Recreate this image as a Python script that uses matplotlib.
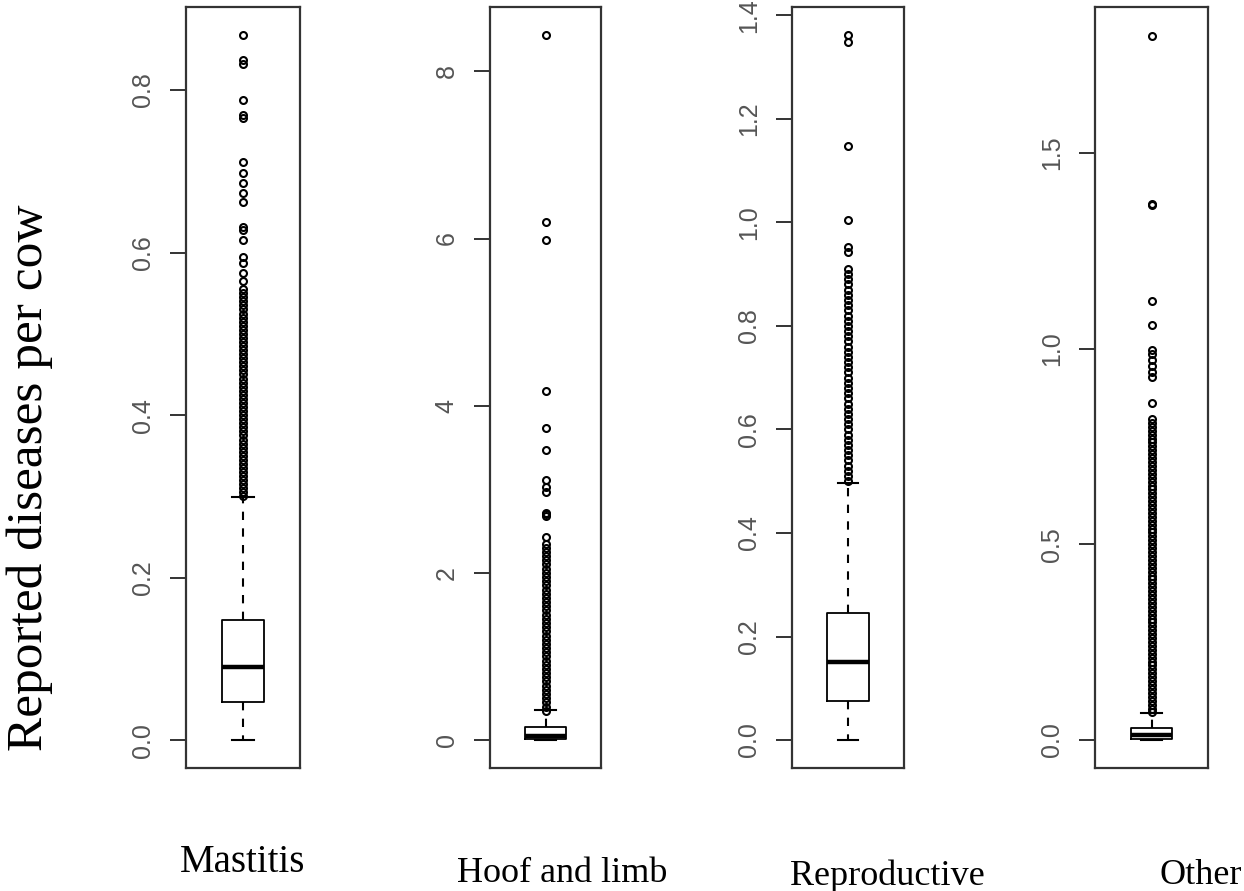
"""
Boxplots of reported diseases per cow, four disease groups side by side
"""
import matplotlib
matplotlib.use('Agg')
import matplotlib.pyplot as plt

# -----------------------------------------------------------------------------------
# DATA
# -----------------------------------------------------------------------------------
CATEGORIES = ['Mastitis', 'Hoof and limb', 'Reproductive', 'Other']

# box statistics: lower whisker, Q1, median, Q3, upper whisker
WHISLO = [0.0, 0.0, 0.0, 0.0]
Q1     = [0.047, 0.015, 0.075, 0.003]
MEDIAN = [0.090, 0.050, 0.150, 0.012]
Q3     = [0.148, 0.160, 0.245, 0.031]
WHISHI = [0.299, 0.360, 0.497, 0.069]

# outliers per panel
FLIERS_MASTITIS = [
    0.300, 0.305, 0.310, 0.315, 0.320, 0.325, 0.330, 0.335, 0.340, 0.345,
    0.350, 0.355, 0.360, 0.365, 0.370, 0.375, 0.380, 0.385, 0.390, 0.395,
    0.400, 0.405, 0.410, 0.415, 0.420, 0.425, 0.430, 0.435, 0.440, 0.445,
    0.450, 0.455, 0.460, 0.465, 0.470, 0.475, 0.480, 0.485, 0.490, 0.495,
    0.500, 0.505, 0.510, 0.515, 0.520, 0.525, 0.530, 0.535, 0.540, 0.545,
    0.550, 0.555, 0.565, 0.575, 0.587, 0.594, 0.615, 0.628, 0.631, 0.662,
    0.673, 0.686, 0.698, 0.711, 0.766, 0.769, 0.788, 0.832, 0.837, 0.868]
FLIERS_HOOF = [
    0.35, 0.40, 0.45, 0.50, 0.55, 0.60, 0.65, 0.70, 0.75, 0.80,
    0.85, 0.90, 0.95, 1.00, 1.05, 1.10, 1.15, 1.20, 1.25, 1.30,
    1.35, 1.40, 1.45, 1.50, 1.55, 1.60, 1.65, 1.70, 1.75, 1.80,
    1.85, 1.90, 1.95, 2.00, 2.05, 2.10, 2.15, 2.20, 2.25, 2.30,
    2.35, 2.43, 2.68, 2.70, 2.72, 2.97, 3.03, 3.11, 3.47, 3.73,
    4.17, 5.98, 6.20, 8.43]
FLIERS_REPRO = [
    0.50, 0.51, 0.52, 0.53, 0.54, 0.55, 0.56, 0.57, 0.58, 0.59,
    0.60, 0.61, 0.62, 0.63, 0.64, 0.65, 0.66, 0.67, 0.68, 0.69,
    0.70, 0.71, 0.72, 0.73, 0.74, 0.75, 0.76, 0.77, 0.78, 0.79,
    0.80, 0.81, 0.82, 0.83, 0.84, 0.85, 0.86, 0.87, 0.88, 0.89,
    0.90, 0.91, 0.943, 0.953, 1.005, 1.148, 1.349, 1.362]
FLIERS_OTHER = [
    0.07, 0.08, 0.09, 0.10, 0.11, 0.12, 0.13, 0.14, 0.15, 0.16,
    0.17, 0.18, 0.19, 0.20, 0.21, 0.22, 0.23, 0.24, 0.25, 0.26,
    0.27, 0.28, 0.29, 0.30, 0.31, 0.32, 0.33, 0.34, 0.35, 0.36,
    0.37, 0.38, 0.39, 0.40, 0.41, 0.42, 0.43, 0.44, 0.45, 0.46,
    0.47, 0.48, 0.49, 0.50, 0.51, 0.52, 0.53, 0.54, 0.55, 0.56,
    0.57, 0.58, 0.59, 0.60, 0.61, 0.62, 0.63, 0.64, 0.65, 0.66,
    0.67, 0.68, 0.69, 0.70, 0.71, 0.72, 0.73, 0.74, 0.75, 0.76,
    0.77, 0.78, 0.79, 0.80, 0.81, 0.82, 0.861, 0.928, 0.940, 0.955,
    0.970, 0.985, 0.997, 1.061, 1.122, 1.367, 1.370, 1.800]
FLIERS = [FLIERS_MASTITIS, FLIERS_HOOF, FLIERS_REPRO, FLIERS_OTHER]

# y ticks and labels per panel
YTICKS = [[0.0, 0.2, 0.4, 0.6, 0.8],
          [0, 2, 4, 6, 8],
          [0.0, 0.2, 0.4, 0.6, 0.8, 1.0, 1.2, 1.4],
          [0.0, 0.5, 1.0, 1.5]]
YTICKLABELS = [['0.0', '0.2', '0.4', '0.6', '0.8'],
               ['0', '2', '4', '6', '8'],
               ['0.0', '0.2', '0.4', '0.6', '0.8', '1.0', '1.2', '1.4'],
               ['0.0', '0.5', '1.0', '1.5']]
YLIMS = [(-0.034, 0.902), (-0.335, 8.77), (-0.054, 1.416), (-0.072, 1.873)]

# -----------------------------------------------------------------------------------
# LAYOUT
# -----------------------------------------------------------------------------------
W, H = 1244, 891
fig = plt.figure(figsize=(W / 100, H / 100), dpi=100)

AX_LEFT = [186, 490, 792, 1095]   # px
AX_W    = [114, 111, 112, 113]
AX_TOP, AX_BOT = 7, 768
LABEL_X = [243, 562, 887, 1201]
LABEL_Y = [862, 873, 876, 876]
LABEL_FS = [28, 26, 26, 26]

for i in range(4):
    ax = fig.add_axes([AX_LEFT[i] / W, 1 - AX_BOT / H, AX_W[i] / W, (AX_BOT - AX_TOP) / H])
    stats = [dict(whislo=WHISLO[i], q1=Q1[i], med=MEDIAN[i], q3=Q3[i],
                  whishi=WHISHI[i], fliers=FLIERS[i])]
    ax.bxp(stats, positions=[1], widths=0.4, showfliers=True,
           boxprops=dict(color='black', linewidth=1.3),
           whiskerprops=dict(color='black', linewidth=1.5, linestyle=(0, (4, 4))),
           capprops=dict(color='black', linewidth=1.5),
           medianprops=dict(color='black', linewidth=3.2, solid_capstyle='butt'),
           flierprops=dict(marker='o', markersize=5.0, markerfacecolor='none',
                           markeredgecolor='black', markeredgewidth=1.5, linestyle='none'))
    ax.set_xlim(0.46, 1.54)
    ax.set_ylim(*YLIMS[i])
    ax.set_xticks([])
    ax.set_yticks(YTICKS[i])
    ax.set_yticklabels(YTICKLABELS[i], rotation=90, va='center',
                       fontsize=18, color='#555555', family='Liberation Sans')
    ax.tick_params(axis='y', length=11.5, width=1.4, color='#333333', pad=11)
    for sp in ax.spines.values():
        sp.set_color('#333333')
        sp.set_linewidth(1.6)
    fig.text(LABEL_X[i] / W, 1 - LABEL_Y[i] / H, CATEGORIES[i], ha='center', va='center',
             fontsize=LABEL_FS[i], family='Liberation Serif')

fig.text(30 / W, 1 - 478 / H, 'Reported diseases per cow', rotation=90, ha='center',
         va='center', fontsize=37, family='Liberation Serif')

plt.savefig('out.png', dpi=100)
